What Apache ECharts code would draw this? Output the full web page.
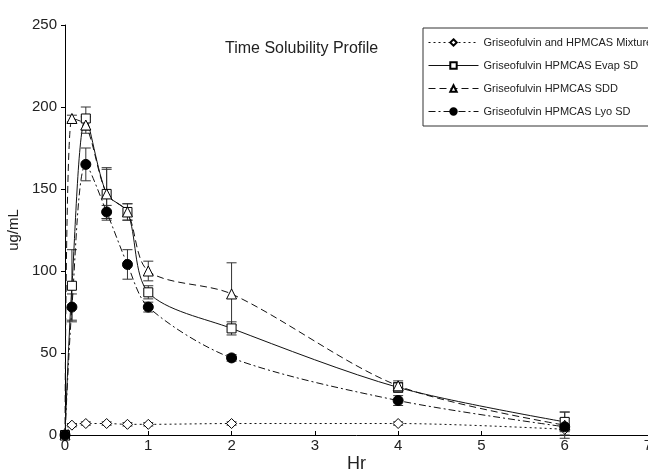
<!DOCTYPE html>
<html>
<head>
<meta charset="utf-8">
<script src="https://cdn.jsdelivr.net/npm/echarts@6/dist/echarts.min.js"></script>
<style>
  html, body { margin: 0; padding: 0; background: #fff; }
  #chart { width: 648px; height: 469px; }
</style>
</head>
<body>
<div id="chart"></div>
<script>
// time points (hr)
const hours = [0, 0.083, 0.25, 0.5, 0.75, 1, 2, 4, 6];

const names = [
  "Griseofulvin and HPMCAS Mixture",
  "Griseofulvin HPMCAS Evap SD",
  "Griseofulvin HPMCAS SDD",
  "Griseofulvin HPMCAS Lyo SD",
];

// ug/mL values
const mixture = [0, 6, 7, 7, 6.5, 6.5, 7, 7, 3.5];
const evapSD = [0, 91, 193, 147, 136, 87, 65, 29, 8];
const sdd = [0, 193, 189, 147, 136, 100, 86, 30, 6];
const lyoSD = [0, 78, 165, 136, 104, 78, 47, 21, 5];

// error bar half-widths
const mixtureErr = [0, 1, 1, 1, 1, 1, 1, 1, 1];
const evapErr = [0, 22, 7, 15, 5, 4, 4, 3, 6];
const sddErr = [0, 2, 5, 16, 5, 6, 19, 3, 8];
const lyoErr = [0, 8, 10, 4, 9, 3, 2, 3, 5];

const FONT = "Liberation Sans";
const chart = echarts.init(document.getElementById("chart"));

const pair = (vals) => hours.map((h, i) => [h, vals[i]]);
const errData = (vals, err) => hours.map((h, i) => [h, vals[i] - err[i], vals[i] + err[i]]);

const errSeries = (vals, err) => ({
  type: "custom",
  silent: true,
  z: 1,
  data: errData(vals, err),
  renderItem: (params, api) => {
    const lo = api.coord([api.value(0), api.value(1)]);
    const hi = api.coord([api.value(0), api.value(2)]);
    const w = 5;
    const style = { stroke: "#333", lineWidth: 1 };
    return {
      type: "group",
      children: [
        { type: "line", shape: { x1: lo[0], y1: lo[1], x2: hi[0], y2: hi[1] }, style },
        { type: "line", shape: { x1: lo[0] - w, y1: lo[1], x2: lo[0] + w, y2: lo[1] }, style },
        { type: "line", shape: { x1: hi[0] - w, y1: hi[1], x2: hi[0] + w, y2: hi[1] }, style },
      ],
    };
  },
});

const lineSeries = (name, vals, symbol, size, dash, fill) => ({
  name,
  type: "line",
  z: 3,
  data: pair(vals),
  smooth: 0.3,
  symbol,
  symbolSize: size,
  showAllSymbol: true,
  itemStyle: { color: fill, borderColor: "#000", borderWidth: 1 },
  lineStyle: { color: "#111", width: 1, type: dash },
});

const option = {
  animation: false,
  title: {
    text: "Time Solubility Profile",
    left: 220,
    top: 36,
    textStyle: { fontSize: 16, fontWeight: "normal", color: "#222", fontFamily: FONT },
  },
  legend: {
    data: names,
    orient: "vertical",
    left: 423,
    top: 28,
    itemWidth: 50,
    itemHeight: 8,
    itemGap: 12,
    padding: [9, 20, 9, 5],
    borderColor: "#333",
    borderWidth: 1,
    lineStyle: { width: 1 },
    textStyle: { fontSize: 11, color: "#222", fontFamily: FONT },
  },
  grid: { left: 65, right: 0, top: 25, bottom: 34, outerBoundsMode: "none" },
  xAxis: {
    type: "value",
    min: 0,
    max: 7,
    interval: 1,
    name: "Hr",
    nameLocation: "center",
    nameGap: 20,
    nameMoveOverlap: false,
    nameTextStyle: { fontSize: 18, color: "#222", fontFamily: FONT, verticalAlign: "top" },
    axisLine: { lineStyle: { color: "#000" } },
    axisTick: { inside: true, length: 4, lineStyle: { color: "#000" } },
    axisLabel: { fontSize: 15, color: "#222", margin: 3, fontFamily: FONT },
    splitLine: { show: false },
  },
  yAxis: {
    type: "value",
    min: 0,
    max: 250,
    interval: 50,
    name: "ug/mL",
    nameLocation: "center",
    nameGap: 42,
    nameTextStyle: { fontSize: 15, color: "#222", fontFamily: FONT },
    axisLine: { show: true, lineStyle: { color: "#000" } },
    axisTick: { show: true, length: 4, lineStyle: { color: "#000" } },
    axisLabel: { fontSize: 15, color: "#222", margin: 8, fontFamily: FONT },
    splitLine: { show: false },
  },
  series: [
    errSeries(mixture, mixtureErr),
    errSeries(evapSD, evapErr),
    errSeries(sdd, sddErr),
    errSeries(lyoSD, lyoErr),
    lineSeries(names[0], mixture, "diamond", 10, [2, 3], "#fff"),
    lineSeries(names[1], evapSD, "rect", 9, "solid", "#fff"),
    lineSeries(names[2], sdd, "triangle", 10, [7, 4], "#fff"),
    lineSeries(names[3], lyoSD, "circle", 10, [7, 3, 2, 3], "#000"),
  ],
};

chart.setOption(option);
</script>
</body>
</html>
